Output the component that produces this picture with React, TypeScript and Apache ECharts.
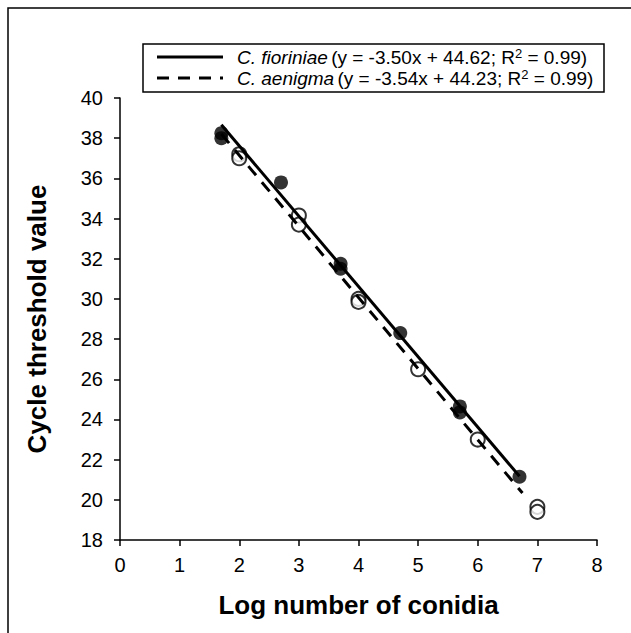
import React, { useEffect, useRef } from "react";
import * as echarts from "echarts";

// Standard curves: log number of conidia vs. qPCR cycle threshold
const fioriniaeX = [1.7, 1.7, 2.7, 3.7, 3.7, 4.7, 5.7, 5.7, 6.7];
const fioriniaeY = [38.25, 38.0, 35.8, 31.75, 31.5, 28.3, 24.65, 24.35, 21.15];
const aenigmaX = [2, 2, 3, 3, 4, 4, 5, 6, 7, 7];
const aenigmaY = [37.2, 37.0, 34.15, 33.7, 30.0, 29.85, 26.5, 23.0, 19.65, 19.4];

// Fitted regressions (slope, intercept) and the x-range each trendline spans
const fioriniaeFit = { slope: -3.5, intercept: 44.62, from: 1.7, to: 6.7 };
const aenigmaFit = { slope: -3.54, intercept: 44.23, from: 1.7, to: 6.75 };

const xTicks = { min: 0, max: 8, interval: 1 };
const yTicks = { min: 18, max: 40, interval: 2 };

const legendRows = [
  { name: "C. fioriniae", eq: "(y = -3.50x + 44.62; R", r2: " = 0.99)", dashed: false },
  { name: "C. aenigma", eq: "(y = -3.54x + 44.23; R", r2: " = 0.99)", dashed: true },
];

const FONT = "'Liberation Sans', Arial, sans-serif";

const fitLine = (f: { slope: number; intercept: number; from: number; to: number }) => [
  [f.from, f.slope * f.from + f.intercept],
  [f.to, f.slope * f.to + f.intercept],
];

export default function App() {
  const ref = useRef<HTMLDivElement>(null);

  useEffect(() => {
    document.body.style.margin = "0";
    if (!ref.current) return;
    const chart = echarts.init(ref.current, null, { renderer: "svg" });

    const legendX = 143;
    const legendY = 44;
    const legendGraphics: any[] = [
      {
        type: "rect",
        shape: { x: legendX, y: legendY, width: 461, height: 48 },
        style: { fill: "#fff", stroke: "#000", lineWidth: 1.5 },
        z: 100,
      },
    ];
    legendRows.forEach((row, i) => {
      const cy = legendY + 13 + i * 21;
      legendGraphics.push({
        type: "line",
        shape: { x1: legendX + 14, y1: cy, x2: legendX + 80, y2: cy },
        style: {
          stroke: "#000",
          lineWidth: 3,
          lineDash: row.dashed ? [12, 9] : null,
        },
        z: 101,
      });
      legendGraphics.push({
        type: "text",
        x: legendX + 94,
        y: cy,
        style: {
          text: `{it|${row.name}} {rg|${row.eq}}{sup|2}{rg|${row.r2}}`,
          verticalAlign: "middle",
          rich: {
            it: { fontFamily: FONT, fontSize: 19, fontStyle: "italic", fill: "#000" },
            rg: { fontFamily: FONT, fontSize: 19, fill: "#000" },
            sup: { fontFamily: FONT, fontSize: 13, fill: "#000", verticalAlign: "top", padding: [0, 0, 8, 0] },
          },
        },
        z: 101,
      });
    });

    chart.setOption({
      animation: false,
      backgroundColor: "#fff",
      grid: { left: 120, right: 34, top: 98, bottom: 93 },
      xAxis: {
        type: "value",
        ...xTicks,
        name: "Log number of conidia",
        nameLocation: "middle",
        nameGap: 52,
        nameTextStyle: { fontFamily: FONT, fontSize: 26, fontWeight: "bold", color: "#000" },
        axisLine: { show: true, lineStyle: { color: "#000", width: 1.5 } },
        axisTick: { show: true, length: 6, lineStyle: { color: "#000", width: 1.5 } },
        axisLabel: { fontFamily: FONT, fontSize: 20, color: "#000", margin: 15 },
        splitLine: { show: false },
      },
      yAxis: {
        type: "value",
        ...yTicks,
        name: "Cycle threshold value",
        nameLocation: "middle",
        nameGap: 70,
        nameTextStyle: { fontFamily: FONT, fontSize: 26, fontWeight: "bold", color: "#000" },
        axisLine: { show: true, lineStyle: { color: "#000", width: 1.5 } },
        axisTick: { show: true, length: 6, lineStyle: { color: "#000", width: 1.5 } },
        axisLabel: { fontFamily: FONT, fontSize: 20, color: "#000", margin: 17 },
        splitLine: { show: false },
      },
      series: [
        {
          type: "scatter",
          data: fioriniaeX.map((x, i) => [x, fioriniaeY[i]]),
          symbol: "circle",
          symbolSize: 14,
          itemStyle: { color: "#000" },
          z: 2,
        },
        {
          type: "scatter",
          data: aenigmaX.map((x, i) => [x, aenigmaY[i]]),
          symbol: "circle",
          symbolSize: 14,
          itemStyle: { color: "#fff", borderColor: "#000", borderWidth: 2 },
          z: 2,
        },
        {
          type: "line",
          data: fitLine(fioriniaeFit),
          showSymbol: false,
          symbol: "none",
          lineStyle: { color: "#000", width: 3 },
          z: 3,
        },
        {
          type: "line",
          data: fitLine(aenigmaFit),
          showSymbol: false,
          symbol: "none",
          lineStyle: { color: "#000", width: 3, type: [12, 9] },
          z: 3,
        },
      ],
      graphic: [
        {
          type: "rect",
          shape: { x: 8, y: 8, width: 700, height: 700 },
          style: { fill: "none", stroke: "#000", lineWidth: 1.5 },
          z: 100,
        },
        ...legendGraphics,
      ],
    });

    return () => chart.dispose();
  }, []);

  return <div ref={ref} style={{ width: 631, height: 633 }} />;
}
